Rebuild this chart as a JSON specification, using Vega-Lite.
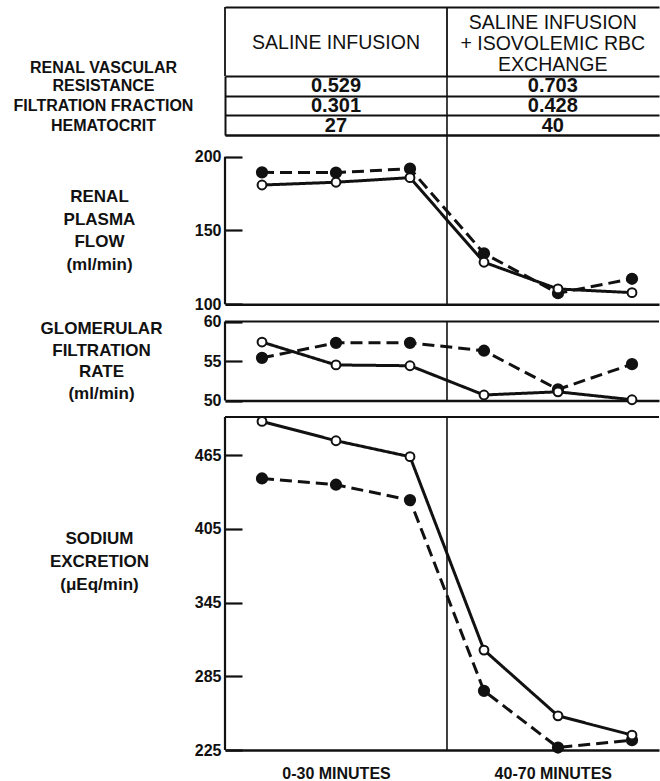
{
  "$schema": "https://vega.github.io/schema/vega-lite/v6.json",
  "background": "white",
  "padding": {"left": 13, "top": 6, "right": 0, "bottom": 0},
  "config": {
    "font": "Liberation Sans",
    "view": {"stroke": null},
    "axis": {"domainColor": "#111", "tickColor": "#111", "labelColor": "#111", "titleColor": "#111", "grid": false, "gridColor": "#111"}
  },
  "datasets": {
    "measures": [
      {"panel": "RPF", "series": "B", "period": 1, "value": 189.4},
      {"panel": "RPF", "series": "B", "period": 2, "value": 189.2},
      {"panel": "RPF", "series": "B", "period": 3, "value": 191.9},
      {"panel": "RPF", "series": "B", "period": 4, "value": 134.5},
      {"panel": "RPF", "series": "B", "period": 5, "value": 107.5},
      {"panel": "RPF", "series": "B", "period": 6, "value": 117.3},
      {"panel": "RPF", "series": "A", "period": 1, "value": 180.8},
      {"panel": "RPF", "series": "A", "period": 2, "value": 182.7},
      {"panel": "RPF", "series": "A", "period": 3, "value": 185.8},
      {"panel": "RPF", "series": "A", "period": 4, "value": 128.5},
      {"panel": "RPF", "series": "A", "period": 5, "value": 110.4},
      {"panel": "RPF", "series": "A", "period": 6, "value": 107.9},
      {"panel": "GFR", "series": "B", "period": 1, "value": 55.4},
      {"panel": "GFR", "series": "B", "period": 2, "value": 57.3},
      {"panel": "GFR", "series": "B", "period": 3, "value": 57.3},
      {"panel": "GFR", "series": "B", "period": 4, "value": 56.3},
      {"panel": "GFR", "series": "B", "period": 5, "value": 51.4},
      {"panel": "GFR", "series": "B", "period": 6, "value": 54.6},
      {"panel": "GFR", "series": "A", "period": 1, "value": 57.4},
      {"panel": "GFR", "series": "A", "period": 2, "value": 54.5},
      {"panel": "GFR", "series": "A", "period": 3, "value": 54.4},
      {"panel": "GFR", "series": "A", "period": 4, "value": 50.7},
      {"panel": "GFR", "series": "A", "period": 5, "value": 51.1},
      {"panel": "GFR", "series": "A", "period": 6, "value": 50.1},
      {"panel": "NA", "series": "B", "period": 1, "value": 446.0},
      {"panel": "NA", "series": "B", "period": 2, "value": 440.9},
      {"panel": "NA", "series": "B", "period": 3, "value": 428.4},
      {"panel": "NA", "series": "B", "period": 4, "value": 273.2},
      {"panel": "NA", "series": "B", "period": 5, "value": 227.1},
      {"panel": "NA", "series": "B", "period": 6, "value": 233.1},
      {"panel": "NA", "series": "A", "period": 1, "value": 492.4},
      {"panel": "NA", "series": "A", "period": 2, "value": 476.7},
      {"panel": "NA", "series": "A", "period": 3, "value": 463.7},
      {"panel": "NA", "series": "A", "period": 4, "value": 306.4},
      {"panel": "NA", "series": "A", "period": 5, "value": 252.9},
      {"panel": "NA", "series": "A", "period": 6, "value": 237.2}
    ],
    "frames": [
      {"panel": "RPF", "kind": "axis", "period": 0.5, "value": 100, "value2": 200},
      {"panel": "RPF", "kind": "divider", "period": 3.5, "value": 100, "value2": 214.7},
      {"panel": "GFR", "kind": "axis", "period": 0.5, "value": 50, "value2": 60},
      {"panel": "GFR", "kind": "divider", "period": 3.5, "value": 50, "value2": 60},
      {"panel": "NA", "kind": "axis", "period": 0.5, "value": 225, "value2": 496},
      {"panel": "NA", "kind": "divider", "period": 3.5, "value": 225, "value2": 496}
    ],
    "tops": [
      {"panel": "GFR", "period": 0.5, "period2": 6.365, "value": 60},
      {"panel": "NA", "period": 0.5, "period2": 6.365, "value": 496}
    ],
    "breaks": [{"period": 3.5}],
    "edges": [{"period": 0.5}, {"period": 3.5}],
    "header": [
      {"period": 2, "label": "SALINE INFUSION"},
      {"period": 4.93, "label": "SALINE INFUSION|+ ISOVOLEMIC RBC|EXCHANGE"}
    ],
    "table": [
      {"row": "RENAL VASCULAR|RESISTANCE", "period": 2, "text": "0.529"},
      {"row": "RENAL VASCULAR|RESISTANCE", "period": 4.93, "text": "0.703"},
      {"row": "FILTRATION FRACTION", "period": 2, "text": "0.301"},
      {"row": "FILTRATION FRACTION", "period": 4.93, "text": "0.428"},
      {"row": "HEMATOCRIT", "period": 2, "text": "27"},
      {"row": "HEMATOCRIT", "period": 4.93, "text": "40"}
    ]
  },
  "spacing": 0,
  "bounds": "flush",
  "vconcat": [
    {
      "width": 434,
      "height": 69,
      "encoding": {
        "x": {"field": "period", "type": "quantitative", "scale": {"domain": [0.5, 6.365], "nice": false, "zero": false},
              "axis": {"orient": "top", "domain": true, "domainWidth": 2, "ticks": false, "tickSize": 0, "labels": false, "title": null}}
      },
      "layer": [
        {
          "data": {"name": "edges"},
          "mark": {"type": "rule", "color": "#111", "strokeWidth": 1.8}
        },
        {
          "data": {"name": "header"},
          "transform": [{"filter": "datum.period < 3.5"}],
          "mark": {"type": "text", "fontSize": 19.5, "baseline": "middle", "align": "center", "color": "#111", "dy": 1},
          "encoding": {"text": {"field": "label", "type": "nominal"}}
        },
        {
          "data": {"name": "header"},
          "transform": [{"filter": "datum.period > 3.5"}],
          "mark": {"type": "text", "fontSize": 19.5, "lineHeight": 21, "lineBreak": "|", "baseline": "middle", "align": "center", "color": "#111", "dy": -19},
          "encoding": {"text": {"field": "label", "type": "nominal"}}
        }
      ]
    },
    {
      "width": 434,
      "height": 59,
      "layer": [
        {
          "data": {"name": "breaks"},
          "mark": {"type": "rule", "color": "#111", "strokeWidth": 1.6},
          "encoding": {
            "x": {"field": "period", "type": "quantitative", "scale": {"domain": [0.5, 6.365], "nice": false, "zero": false},
                  "axis": {"orient": "bottom", "domain": true, "domainWidth": 2, "ticks": false, "tickSize": 0, "labels": false, "title": null}}
          }
        },
        {
          "data": {"name": "table"},
          "mark": {"type": "text", "fontSize": 20, "fontWeight": "bold", "baseline": "middle", "align": "center", "color": "#111", "dy": 0.5},
          "encoding": {
            "x": {"field": "period", "type": "quantitative", "scale": {"domain": [0.5, 6.365], "nice": false, "zero": false},
                  "axis": {"orient": "bottom", "domain": true, "domainWidth": 2, "ticks": false, "tickSize": 0, "labels": false, "title": null}},
            "y": {"field": "row", "type": "nominal",
                  "scale": {"type": "band", "domain": ["RENAL VASCULAR|RESISTANCE", "FILTRATION FRACTION", "HEMATOCRIT"], "paddingInner": 0, "paddingOuter": 0},
                  "axis": {"title": null, "domain": true, "domainWidth": 2, "ticks": false, "tickSize": 0, "tickBand": "extent",
                           "grid": true, "gridWidth": 1.8, "gridColor": "#111", "gridOpacity": 1,
                           "labelExpr": "isValid(datum.value) ? (indexof(datum.value, '|') >= 0 ? split(datum.value, '|') : ['', datum.value]) : ''",
                           "labelAlign": "center", "labelBaseline": "middle",
                           "labelPadding": 122, "labelFontSize": 16, "labelFontWeight": "bold", "labelLineHeight": 18, "labelLimit": 0,
                           "labelOffset": -18}},
            "text": {"field": "text", "type": "nominal"}
          }
        }
      ]
    },
    {
      "width": 434,
      "height": 169.3,
      "encoding": {
        "x": {"field": "period", "type": "quantitative", "scale": {"domain": [0.5, 6.365], "nice": false, "zero": false},
              "axis": {"orient": "bottom", "domain": true, "domainWidth": 2.5, "ticks": false, "tickSize": 0, "labels": false, "title": null}},
        "y": {"field": "value", "type": "quantitative", "scale": {"domain": [100, 214.7], "nice": false, "zero": false},
              "axis": {"values": [100, 150, 200], "domain": false, "ticks": true, "tickSize": -17, "tickWidth": 2.2,
                       "labelPadding": 21, "labelFontSize": 16, "labelFontWeight": "bold",
                       "title": ["RENAL", "PLASMA", "FLOW", "(ml/min)"], "titleAngle": 0, "titleX": -126, "titleY": 61.7,
                       "titleAlign": "center", "titleBaseline": "middle", "titleFontSize": 17, "titleFontWeight": "bold", "titleLineHeight": 22.5}}
      },
      "layer": [
        {
          "data": {"name": "frames"},
          "transform": [{"filter": "datum.panel === 'RPF' && datum.kind === 'axis'"}],
          "mark": {"type": "rule", "color": "#111", "strokeWidth": 2.2},
          "encoding": {"y2": {"field": "value2"}}
        },
        {
          "data": {"name": "frames"},
          "transform": [{"filter": "datum.panel === 'RPF' && datum.kind === 'divider'"}],
          "mark": {"type": "rule", "color": "#111", "strokeWidth": 1.6},
          "encoding": {"y2": {"field": "value2"}}
        },
        {
          "data": {"name": "measures"},
          "transform": [{"filter": "datum.panel === 'RPF'"}],
          "mark": {"type": "line", "color": "#111", "strokeWidth": 3},
          "encoding": {
            "strokeDash": {"field": "series", "type": "nominal", "scale": {"domain": ["A", "B"], "range": [[1, 0], [12, 6]]}, "legend": null}
          }
        },
        {
          "data": {"name": "measures"},
          "transform": [{"filter": "datum.panel === 'RPF'"}],
          "mark": {"type": "point", "shape": "circle", "filled": true, "stroke": "#111", "strokeWidth": 2, "opacity": 1},
          "encoding": {
            "fill": {"field": "series", "type": "nominal", "scale": {"domain": ["A", "B"], "range": ["white", "#111"]}, "legend": null},
            "size": {"field": "series", "type": "nominal", "scale": {"domain": ["A", "B"], "range": [78, 105]}, "legend": null}
          }
        }
      ]
    },
    {
      "width": 434,
      "height": 95.5,
      "encoding": {
        "x": {"field": "period", "type": "quantitative", "scale": {"domain": [0.5, 6.365], "nice": false, "zero": false},
              "axis": {"orient": "bottom", "domain": true, "domainWidth": 2.5, "ticks": false, "tickSize": 0, "labels": false, "title": null}},
        "y": {"field": "value", "type": "quantitative", "scale": {"domain": [50, 62.089], "nice": false, "zero": false},
              "axis": {"values": [50, 55, 60], "domain": false, "ticks": true, "tickSize": -17, "tickWidth": 2.2,
                       "labelPadding": 21, "labelFontSize": 16, "labelFontWeight": "bold",
                       "title": ["GLOMERULAR", "FILTRATION", "RATE", "(ml/min)"], "titleAngle": 0, "titleX": -124, "titleY": 23.7,
                       "titleAlign": "center", "titleBaseline": "middle", "titleFontSize": 17, "titleFontWeight": "bold", "titleLineHeight": 21.5}}
      },
      "layer": [
        {
          "data": {"name": "frames"},
          "transform": [{"filter": "datum.panel === 'GFR' && datum.kind === 'axis'"}],
          "mark": {"type": "rule", "color": "#111", "strokeWidth": 2.2},
          "encoding": {"y2": {"field": "value2"}}
        },
        {
          "data": {"name": "frames"},
          "transform": [{"filter": "datum.panel === 'GFR' && datum.kind === 'divider'"}],
          "mark": {"type": "rule", "color": "#111", "strokeWidth": 1.6},
          "encoding": {"y2": {"field": "value2"}}
        },
        {
          "data": {"name": "tops"},
          "transform": [{"filter": "datum.panel === 'GFR'"}],
          "mark": {"type": "rule", "color": "#111", "strokeWidth": 2.2},
          "encoding": {"x2": {"field": "period2"}}
        },
        {
          "data": {"name": "measures"},
          "transform": [{"filter": "datum.panel === 'GFR'"}],
          "mark": {"type": "line", "color": "#111", "strokeWidth": 3},
          "encoding": {
            "strokeDash": {"field": "series", "type": "nominal", "scale": {"domain": ["A", "B"], "range": [[1, 0], [12, 6]]}, "legend": null}
          }
        },
        {
          "data": {"name": "measures"},
          "transform": [{"filter": "datum.panel === 'GFR'"}],
          "mark": {"type": "point", "shape": "circle", "filled": true, "stroke": "#111", "strokeWidth": 2, "opacity": 1},
          "encoding": {
            "fill": {"field": "series", "type": "nominal", "scale": {"domain": ["A", "B"], "range": ["white", "#111"]}, "legend": null},
            "size": {"field": "series", "type": "nominal", "scale": {"domain": ["A", "B"], "range": [78, 105]}, "legend": null}
          }
        }
      ]
    },
    {
      "width": 434,
      "height": 349.1,
      "encoding": {
        "x": {"field": "period", "type": "quantitative", "scale": {"domain": [0.5, 6.365], "nice": false, "zero": false},
              "axis": {"orient": "bottom", "domain": true, "domainWidth": 2.5, "ticks": false, "tickSize": 0, "values": [2, 4.93],
                       "labelExpr": "datum.value < 3.5 ? '0-30 MINUTES' : '40-70 MINUTES'", "labelFontSize": 16, "labelFontWeight": "bold",
                       "labelPadding": 15.5, "labelFlush": false, "title": null}},
        "y": {"field": "value", "type": "quantitative", "scale": {"domain": [225, 509.02], "nice": false, "zero": false},
              "axis": {"values": [225, 285, 345, 405, 465], "domain": false, "ticks": true, "tickSize": -17, "tickWidth": 2.2,
                       "labelPadding": 21, "labelFontSize": 16, "labelFontWeight": "bold",
                       "title": ["SODIUM", "EXCRETION", "(μEq/min)"], "titleAngle": 0, "titleX": -126, "titleY": 137.7,
                       "titleAlign": "center", "titleBaseline": "middle", "titleFontSize": 17, "titleFontWeight": "bold", "titleLineHeight": 23}}
      },
      "layer": [
        {
          "data": {"name": "frames"},
          "transform": [{"filter": "datum.panel === 'NA' && datum.kind === 'axis'"}],
          "mark": {"type": "rule", "color": "#111", "strokeWidth": 2.2},
          "encoding": {"y2": {"field": "value2"}}
        },
        {
          "data": {"name": "frames"},
          "transform": [{"filter": "datum.panel === 'NA' && datum.kind === 'divider'"}],
          "mark": {"type": "rule", "color": "#111", "strokeWidth": 1.6},
          "encoding": {"y2": {"field": "value2"}}
        },
        {
          "data": {"name": "tops"},
          "transform": [{"filter": "datum.panel === 'NA'"}],
          "mark": {"type": "rule", "color": "#111", "strokeWidth": 2.2},
          "encoding": {"x2": {"field": "period2"}}
        },
        {
          "data": {"name": "measures"},
          "transform": [{"filter": "datum.panel === 'NA'"}],
          "mark": {"type": "line", "color": "#111", "strokeWidth": 3},
          "encoding": {
            "strokeDash": {"field": "series", "type": "nominal", "scale": {"domain": ["A", "B"], "range": [[1, 0], [12, 6]]}, "legend": null}
          }
        },
        {
          "data": {"name": "measures"},
          "transform": [{"filter": "datum.panel === 'NA'"}],
          "mark": {"type": "point", "shape": "circle", "filled": true, "stroke": "#111", "strokeWidth": 2, "opacity": 1},
          "encoding": {
            "fill": {"field": "series", "type": "nominal", "scale": {"domain": ["A", "B"], "range": ["white", "#111"]}, "legend": null},
            "size": {"field": "series", "type": "nominal", "scale": {"domain": ["A", "B"], "range": [78, 105]}, "legend": null}
          }
        }
      ]
    }
  ]
}
